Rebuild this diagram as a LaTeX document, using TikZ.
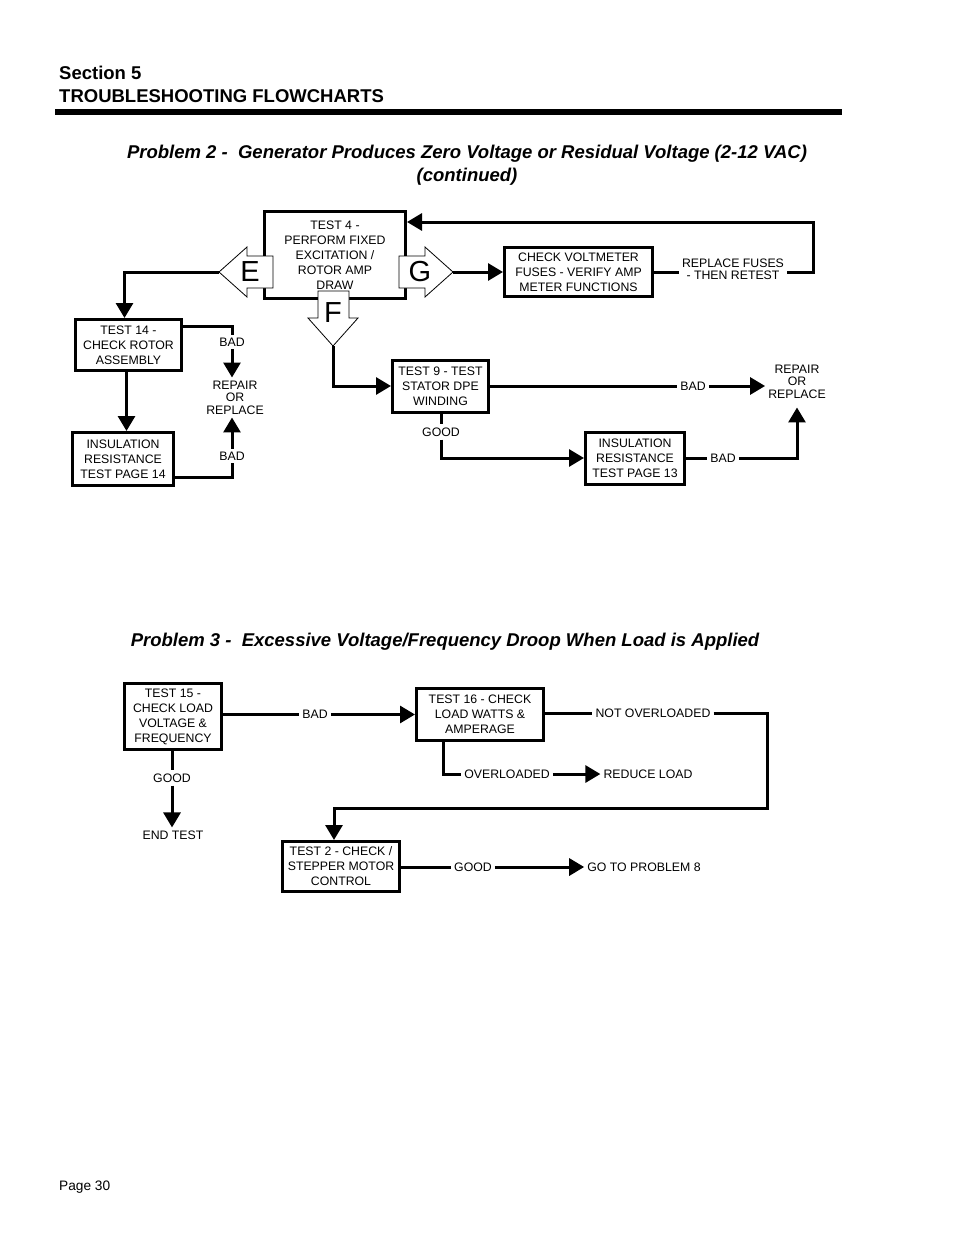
\documentclass[tikz,border=0pt]{standalone}
\usepackage{fontspec}
\setmainfont{Liberation Sans}
\usetikzlibrary{arrows.meta}
\begin{document}
\begin{tikzpicture}[x=1pt,y=-1pt,
  box/.style={draw, line width=3pt, align=center, inner sep=0pt, font=\fontsize{12.3}{15}\selectfont},
  lbl/.style={inner sep=3pt, align=center, font=\fontsize{12.3}{15}\selectfont},
  lbltight/.style={inner sep=3pt, align=center, font=\fontsize{12.3}{12.5}\selectfont},
  con/.style={line width=3pt},
  arr/.style={line width=3pt, -{Triangle[length=15pt,width=17pt]}},
  bigarrow/.style={draw=black, line width=0.8pt, fill=white, line join=miter},
  bigletter/.style={inner sep=0pt, font=\fontsize{29}{29}\selectfont},
  head/.style={anchor=west, inner sep=0pt, font=\fontsize{18.5}{22}\selectfont\bfseries},
  title/.style={align=center, inner sep=0pt, font=\fontsize{18.5}{23}\selectfont\bfseries\itshape}]
\useasboundingbox (0,0) rectangle (954,1235);
\fill[white] (0,0) rectangle (954,1235);

% header
\node[head] (sec) at (59,73) {Section 5};
\node[head] (tsf) at (59,96) {TROUBLESHOOTING FLOWCHARTS};
\fill (55,109) rectangle (842,115);
\node[title] (p2) at (467,165) {Problem 2 -\ \ Generator Produces Zero Voltage or Residual Voltage (2-12 VAC)\\(continued)};
\node[title] (p3) at (445,642) {Problem 3 -\ \ Excessive Voltage/Frequency Droop When Load is Applied};
\node[anchor=west, inner sep=0pt, font=\fontsize{13.7}{16}\selectfont] (pg) at (59,1187) {Page 30};

% ---------------- Problem 2 ----------------
\node[box, minimum width=141pt, minimum height=87pt] (t4) at (335,255) {TEST 4 -\\PERFORM FIXED\\EXCITATION /\\ROTOR AMP\\DRAW};
\node[box, minimum width=148pt, minimum height=49pt] (vm) at (578.5,272) {CHECK VOLTMETER\\FUSES - VERIFY AMP\\METER FUNCTIONS};
\node[box, minimum width=106pt, minimum height=51pt] (t14) at (128.5,345) {TEST 14 -\\CHECK ROTOR\\ASSEMBLY};
\node[box, minimum width=101pt, minimum height=53pt] (ins14) at (123,459) {INSULATION\\RESISTANCE\\TEST PAGE 14};
\node[box, minimum width=96pt, minimum height=52pt] (t9) at (440.5,386) {TEST 9 - TEST\\STATOR DPE\\WINDING};
\node[box, minimum width=99pt, minimum height=52pt] (ins13) at (635,458) {INSULATION\\RESISTANCE\\TEST PAGE 13};

% E F G arrows
\draw[bigarrow] (273,256) -- (247,256) -- (247,247) -- (219,272) -- (247,297) -- (247,288) -- (273,288) -- cycle;
\draw[bigarrow] (399,256) -- (425,256) -- (425,247) -- (453,272) -- (425,297) -- (425,288) -- (399,288) -- cycle;
\draw[bigarrow] (318,291) -- (349,291) -- (349,318) -- (358,318) -- (333,346) -- (308,318) -- (318,318) -- cycle;
\node[bigletter] (Elet) at (250,272) {E};
\node[bigletter] (Glet) at (420,272) {G};
\node[bigletter] (Flet) at (333,313) {F};
\coordinate (Etip) at (219,272);
\coordinate (Gtip) at (453,272);
\coordinate (Ftip) at (333,346);

% labels
\node[lbltight] (rf) at (733,269.5) {REPLACE FUSES\\- THEN RETEST};
\node[lbl] (bad1) at (232,342) {BAD};
\node[lbltight] (rr1) at (235,397.5) {REPAIR\\OR\\REPLACE};
\node[lbl] (bad2) at (232,456) {BAD};
\node[lbl] (bad3) at (693,386) {BAD};
\node[lbltight] (rr2) at (797,381.5) {REPAIR\\OR\\REPLACE};
\node[lbl] (good1) at (441,432) {GOOD};
\node[lbl] (bad4) at (723,458) {BAD};

% connectors
\draw[arr] (Etip) -| ([xshift=-4pt]t14.north);
\draw[arr] ([xshift=-2pt]t14.south) -- ([xshift=-2pt]t14.south |- ins14.north);
\draw[con] ([yshift=-8pt]t14.north east) -| (bad1.north);
\draw[arr] (bad1.south) -- (bad1.south |- rr1.north);
\draw[con] ([yshift=10pt]ins14.south east) -| (bad2.south);
\draw[arr] (bad2.north) -- (bad2.north |- rr1.south);
\draw[arr] (Gtip) -- (vm.west);
\draw[con] (vm.east) -- (vm.east -| rf.west);
\draw[arr] (rf.east |- vm.east) -- (813,272) |- ([yshift=-12pt]t4.north east);
\draw[arr] (Ftip) |- (t9.west);
\draw[con] (t9.east) -- (bad3.west |- t9.east);
\draw[arr] (bad3.east |- t9.east) -- (t9.east -| rr2.west);
\draw[con] (t9.south -| good1.north) -- (good1.north);
\draw[arr] (good1.south) |- (ins13.west);
\draw[con] (ins13.east) -- (bad4.west |- ins13.east);
\draw[arr] (bad4.east |- ins13.east) -| ([yshift=-6pt]rr2.south);

% ---------------- Problem 3 ----------------
\node[box, minimum width=97pt, minimum height=66pt] (t15) at (173,716.5) {TEST 15 -\\CHECK LOAD\\VOLTAGE \&\\FREQUENCY};
\node[box, minimum width=127pt, minimum height=52pt] (t16) at (480,714.5) {TEST 16 - CHECK\\LOAD WATTS \&\\AMPERAGE};
\node[box, minimum width=117pt, minimum height=50pt] (t2) at (341,866.5) {TEST 2 - CHECK /\\STEPPER MOTOR\\CONTROL};

\node[lbl] (bad5) at (315,714.5) {BAD};
\node[lbl] (good2) at (172,778) {GOOD};
\node[lbl] (endt) at (173,835) {END TEST};
\node[lbl] (notov) at (653,713) {NOT OVERLOADED};
\node[lbl] (ov) at (507,774) {OVERLOADED};
\node[lbl] (rl) at (648,774) {REDUCE LOAD};
\node[lbl] (good3) at (473,867) {GOOD};
\node[lbl] (gp8) at (644,867) {GO TO PROBLEM 8};

\draw[con] (t15.east |- t16.west) -- (bad5.west |- t16.west);
\draw[arr] (bad5.east |- t16.west) -- (t16.west);
\draw[con] (t15.south -| good2.north) -- (good2.north);
\draw[arr] (good2.south) -- (good2.south |- endt.north);
\draw[con] (t16.east |- notov.west) -- (notov.west);
\draw[arr] (notov.east) -| (767,808) -| ([xshift=-7pt]t2.north);
\draw[con] ([xshift=-37pt]t16.south) |- (ov.west);
\draw[arr] (ov.east) -- (rl.west);
\draw[con] (t2.east |- good3.west) -- (good3.west);
\draw[arr] (good3.east) -- (gp8.west);
\end{tikzpicture}
\end{document}
